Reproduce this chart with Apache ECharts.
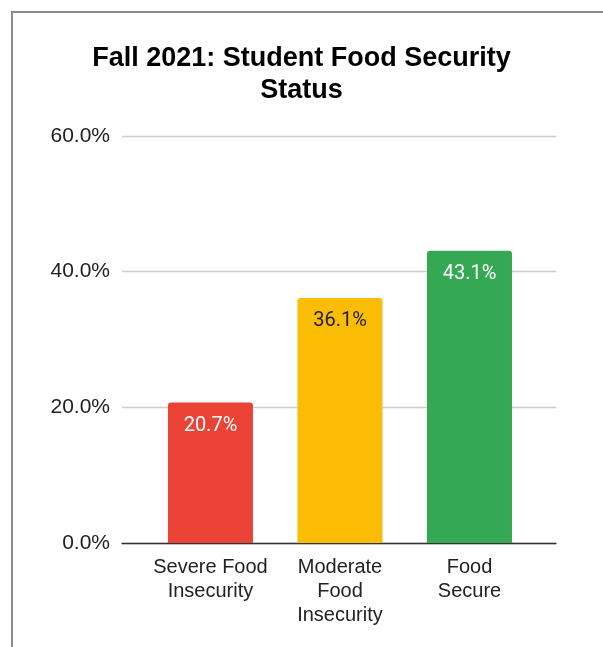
<!DOCTYPE html>
<html>
<head>
<meta charset="utf-8">
<script src="https://cdn.jsdelivr.net/npm/echarts@6/dist/echarts.min.js"></script>
<style>
html,body{margin:0;padding:0;background:#fff;}
#chart{width:603px;height:647px;}
</style>
</head>
<body>
<div id="chart"></div>
<script>
const titleText = 'Fall 2021: Student Food Security\nStatus';
const categories = ['Severe Food\nInsecurity', 'Moderate\nFood\nInsecurity', 'Food\nSecure'];
const values = [20.7, 36.1, 43.1];
const barColors = ['#EA4335', '#FBBC04', '#34A853'];
const labelColors = ['#ffffff', '#1f1f1f', '#ffffff'];
const yTicks = [0, 20, 40, 60];

const chart = echarts.init(document.getElementById('chart'), null, {renderer: 'canvas'});
chart.setOption({
  backgroundColor: '#ffffff',
  animation: false,
  graphic: [{
    type: 'rect',
    shape: {x: 12, y: 12, width: 800, height: 800},
    style: {fill: 'none', stroke: '#8a8a8a', lineWidth: 2},
    silent: true,
    z: 100
  }],
  title: {
    text: titleText,
    left: 'center',
    top: 38,
    textStyle: {
      fontFamily: 'Liberation Sans, Arial, sans-serif',
      fontWeight: 'bold',
      fontSize: 27,
      lineHeight: 32,
      color: '#000000'
    }
  },
  grid: {left: 122, right: 47, top: 136, bottom: 104},
  xAxis: {
    type: 'value',
    min: -0.683,
    max: 2.668,
    splitLine: {show: false},
    axisTick: {show: false},
    axisLine: {show: true, onZero: false, lineStyle: {color: '#333333', width: 1.3}},
    axisLabel: {
      customValues: categories.map((c, i) => i),
      formatter: v => categories[Math.round(v)] || '',
      fontFamily: 'Liberation Sans, Arial, sans-serif',
      fontSize: 20,
      lineHeight: 24,
      color: '#222222',
      margin: 12,
      align: 'center'
    }
  },
  yAxis: {
    type: 'value',
    min: yTicks[0],
    max: yTicks[yTicks.length - 1],
    interval: 20,
    axisLine: {show: false},
    axisTick: {show: false},
    splitLine: {show: true, lineStyle: {color: '#cccccc', width: 1.3}},
    axisLabel: {
      formatter: v => v.toFixed(1) + '%',
      fontFamily: 'Liberation Sans, Arial, sans-serif',
      fontSize: 21,
      color: '#222222',
      margin: 12
    }
  },
  series: [{
    type: 'bar',
    barWidth: 85,
    data: values.map((v, i) => ({
      value: [i, v],
      itemStyle: {color: barColors[i], borderRadius: [3, 3, 0, 0]},
      label: {color: labelColors[i]}
    })),
    label: {
      show: true,
      position: 'insideTop',
      distance: 13,
      formatter: p => p.value[1].toFixed(1) + '%',
      fontFamily: 'Roboto, sans-serif',
      fontSize: 20
    }
  }]
});
</script>
</body>
</html>
